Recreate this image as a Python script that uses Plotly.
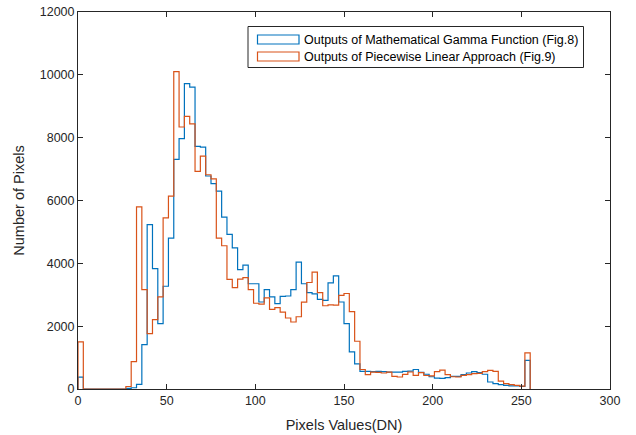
import numpy as np
import plotly.graph_objects as go

# Histogram bin edges (width 3, 0..255) and counts
bin_edges = list(range(0, 256, 3))

gamma_counts = [
    380, 0, 0, 0, 0, 0, 0, 0, 0, 20,
    40, 150, 1410, 5230, 3830, 2080, 3270, 4800, 7310, 7970,
    9720, 9610, 7720, 7700, 6780, 6540, 6300, 5470, 4920, 4490,
    3800, 3940, 3350, 3350, 2770, 3160, 2930, 2720, 2950, 2960,
    3160, 4040, 3350, 3070, 3030, 2850, 2820, 3380, 3600, 2770,
    2080, 1180, 800, 560, 560, 550, 560, 550, 540, 540,
    540, 560, 570, 620, 530, 470, 390, 345, 340, 360,
    400, 400, 460, 510, 550, 520, 470, 223, 170, 140,
    117, 100, 100, 85, 910,
]

piecewise_counts = [
    1500, 0, 0, 0, 0, 0, 0, 0, 0, 80,
    870, 5800, 3160, 1760, 2210, 2930, 5450, 6140, 10100, 8340,
    8680, 8440, 6930, 7410, 6820, 6690, 4800, 4560, 3490, 3226,
    3500, 3545, 3165, 2730, 2700, 2900, 2536, 2590, 2450, 2260,
    2132, 2300, 2768, 3390, 3723, 3067, 2650, 2680, 2670, 2980,
    3040, 2460, 1520, 620, 460, 540, 530, 510, 540, 403,
    382, 467, 541, 435, 520, 430, 420, 550, 600, 460,
    390, 382, 435, 460, 490, 500, 550, 590, 560, 250,
    170, 140, 115, 90, 1150,
]

series_names = [
    "Outputs of Mathematical Gamma Function (Fig.8)",
    "Outputs of Piecewise Linear Approach (Fig.9)",
]

x_ticks = [0, 50, 100, 150, 200, 250, 300]
y_ticks = [0, 2000, 4000, 6000, 8000, 10000, 12000]

BLUE = "#0072BD"
ORANGE = "#D95319"
FONT = "Liberation Sans, Arial, sans-serif"


def stairs(counts):
    xs = [bin_edges[0]] + bin_edges
    ys = [0] + list(counts) + [0]
    return xs, ys


fig = go.Figure()
for counts, color, name in [
    (gamma_counts, BLUE, series_names[0]),
    (piecewise_counts, ORANGE, series_names[1]),
]:
    xs, ys = stairs(counts)
    fig.add_trace(go.Scatter(
        x=xs, y=ys, mode="lines", line=dict(color=color, width=1.2, shape="hv"),
        name=name, showlegend=False, hoverinfo="skip",
    ))

# Plot area on the page: x 78..610, y 12..389
PL, PR, PT, PB = 78, 610, 12, 389
FIG_W, FIG_H = 636, 435


def px(xp):
    return (xp - PL) / (PR - PL)


def py(yp):
    return (PB - yp) / (PB - PT)


shapes = [
    dict(type="rect", xref="paper", yref="paper",
         x0=px(248), x1=px(583.5), y0=py(67.5), y1=py(26.5),
         line=dict(color="#262626", width=1), fillcolor="white", layer="above"),
    dict(type="rect", xref="paper", yref="paper",
         x0=px(257.5), x1=px(299), y0=py(44), y1=py(35),
         line=dict(color=BLUE, width=1.2), fillcolor="rgba(0,0,0,0)", layer="above"),
    dict(type="rect", xref="paper", yref="paper",
         x0=px(257.5), x1=px(299), y0=py(61), y1=py(52),
         line=dict(color=ORANGE, width=1.2), fillcolor="rgba(0,0,0,0)", layer="above"),
]
annotations = [
    dict(xref="paper", yref="paper", x=px(302), y=py(40), xanchor="left", yanchor="middle",
         text=series_names[0], showarrow=False, font=dict(family=FONT, size=12.5, color="#000000")),
    dict(xref="paper", yref="paper", x=px(302), y=py(57), xanchor="left", yanchor="middle",
         text=series_names[1], showarrow=False, font=dict(family=FONT, size=12.5, color="#000000")),
]

axis_common = dict(
    showgrid=False, zeroline=False, showline=True, linecolor="#262626", linewidth=1,
    mirror="ticks", ticks="inside", ticklen=5, tickcolor="#262626", tickwidth=1,
    tickfont=dict(family=FONT, size=12.5, color="#262626"), automargin=False,
)

fig.update_layout(
    width=FIG_W, height=FIG_H,
    margin=dict(l=PL, r=FIG_W - PR, t=PT, b=FIG_H - PB),
    paper_bgcolor="white", plot_bgcolor="white",
    font=dict(family=FONT),
    xaxis=dict(range=[0, 300], tickvals=x_ticks, ticktext=[str(v) for v in x_ticks],
               title=dict(text="Pixels Values(DN)", font=dict(family=FONT, size=14.5, color="#262626"),
                          standoff=12),
               **axis_common),
    yaxis=dict(range=[0, 12000], tickvals=y_ticks, ticktext=[str(v) for v in y_ticks],
               title=dict(text="Number of Pixels", font=dict(family=FONT, size=14.5, color="#262626"),
                          standoff=11),
               **axis_common),
    shapes=shapes,
    annotations=annotations,
    showlegend=False,
)

fig.write_html("out.html", config={"displayModeBar": False},
               post_script="document.body.style.margin='0px';")
